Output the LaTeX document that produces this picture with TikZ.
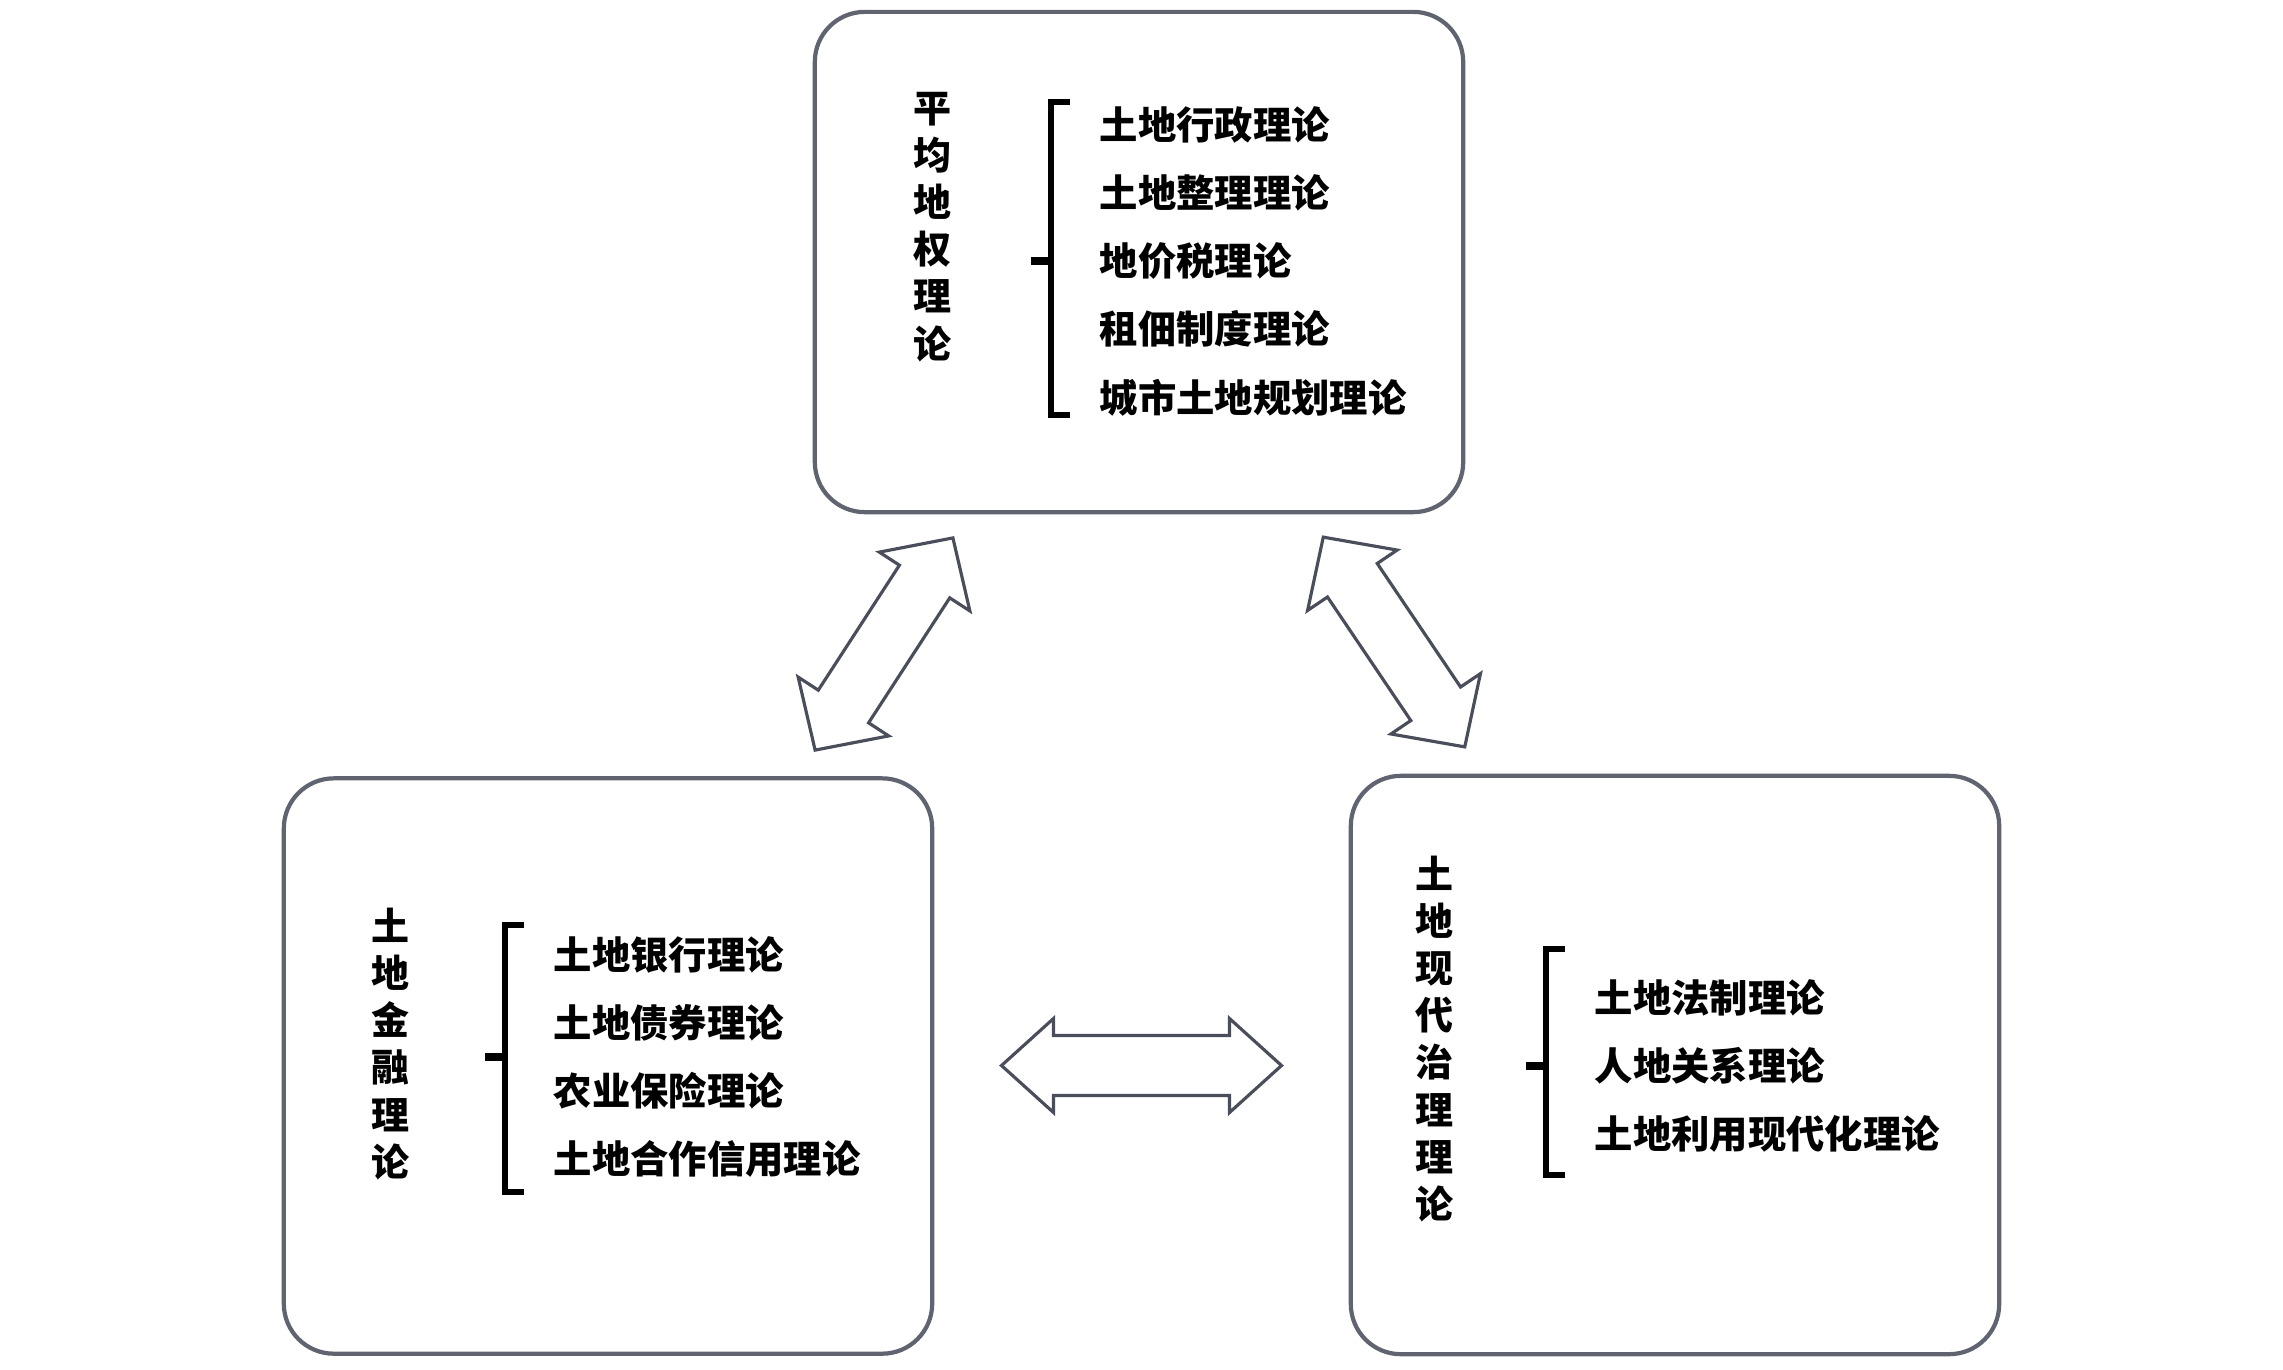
\documentclass[tikz,border=0pt]{standalone}
\usepackage{fontspec}
\setmainfont{Noto Sans CJK SC}
\usetikzlibrary{calc}
\definecolor{boxgray}{HTML}{5F6470}
\definecolor{arrowgray}{HTML}{4A4E5A}

% hollow double arrow: center, angle, length, head half-width
\newcommand{\dblarrow}[4]{%
  \begin{scope}[shift={(#1)}, rotate=#2]
    \pgfmathsetmacro\half{#3/2}
    \pgfmathsetmacro\neck{#3/2-52}
    \draw[blockarrow] (-\half,0) -- (-\neck,#4) -- (-\neck,30) -- (\neck,30) -- (\neck,#4)
      -- (\half,0) -- (\neck,-#4) -- (\neck,-30) -- (-\neck,-30) -- (-\neck,-#4) -- cycle;
  \end{scope}}

\begin{document}
\begin{tikzpicture}[
  x=0.01cm, y=-0.01cm,
  box/.style={draw=boxgray, line width=1.2pt, rounded corners=0.5cm, minimum width=6.48cm},
  title/.style={align=center, inner sep=0, font=\fontsize{10.8}{13.4}\selectfont\bfseries},
  items/.style={align=left, anchor=west, inner sep=0, font=\fontsize{10.9}{19.4}\selectfont\bfseries},
  bracket/.style={draw=black, line width=1.7pt},
  tick/.style={draw=black, line width=2.4pt},
  blockarrow/.style={draw=arrowgray, line width=0.9pt, line join=miter}
]
  \useasboundingbox (0,0) rectangle (2283,1369);

  % top: equal land rights
  \node[box, minimum height=5.00cm] (equal) at (1139,262) {};
  \node[title] (equalname) at (932,227) {平\\均\\地\\权\\理\\论};
  \node[items] (equallist) at (1099,261) {土地行政理论\\土地整理理论\\地价税理论\\租佃制度理论\\城市土地规划理论};
  \draw[bracket] ($(equallist.north west)+(-29,-3)$) -- ++(-19,0) |- ($(equallist.south west)+(-29,-2)$);
  \draw[tick] ($(equallist.west)+(-48,0)$) -- ++(-20,0);

  % bottom left: land finance
  \node[box, minimum height=5.75cm] (finance) at (608,1066) {};
  \node[title] (financename) at (390,1044) {土\\地\\金\\融\\理\\论};
  \node[items] (financelist) at (553,1057) {土地银行理论\\土地债券理论\\农业保险理论\\土地合作信用理论};
  \draw[bracket] ($(financelist.north west)+(-29,-11)$) -- ++(-19,0) |- ($(financelist.south west)+(-29,14)$);
  \draw[tick] ($(financelist.west)+(-48,0)$) -- ++(-20,0);

  % bottom right: modern land governance
  \node[box, minimum height=5.78cm] (govern) at (1675,1065) {};
  \node[title] (governname) at (1434,1039) {土\\地\\现\\代\\治\\理\\理\\论};
  \node[items] (governlist) at (1594,1066) {土地法制理论\\人地关系理论\\土地利用现代化理论};
  \draw[bracket] ($(governlist.north west)+(-29,-30)$) -- ++(-19,0) |- ($(governlist.south west)+(-29,22)$);
  \draw[tick] ($(governlist.west)+(-48,0)$) -- ++(-20,0);

  % arrows between the boxes
  \coordinate (arrL) at (884,644);
  \coordinate (arrR) at (1394,642);
  \coordinate (arrB) at ($(finance.east)!0.5!(govern.west)$);
  \dblarrow{arrL}{57}{253}{54}
  \dblarrow{arrR}{-56}{253}{54}
  \dblarrow{arrB}{0}{280}{47}
\end{tikzpicture}
\end{document}
